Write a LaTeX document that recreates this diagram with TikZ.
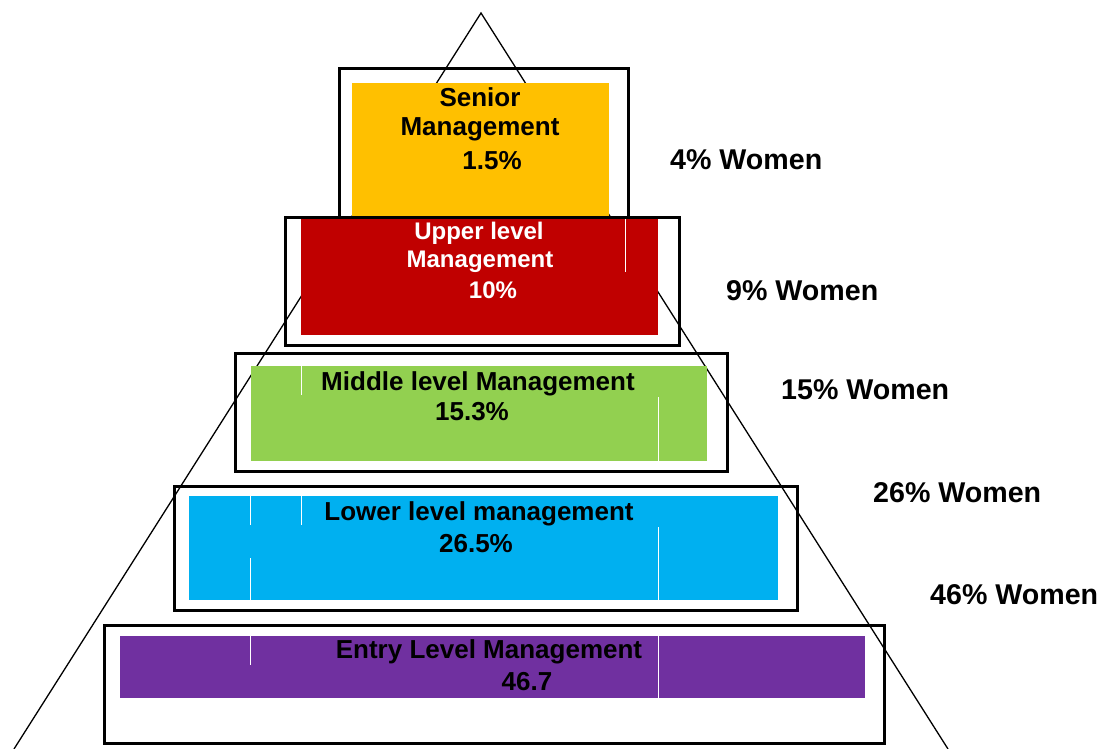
\documentclass[tikz,border=0pt]{standalone}
\usepackage{fontspec}
\setmainfont{Liberation Sans}
\definecolor{seniorcolor}{RGB}{255,192,0}
\definecolor{uppercolor}{RGB}{192,0,0}
\definecolor{middlecolor}{RGB}{146,208,80}
\definecolor{lowercolor}{RGB}{0,176,240}
\definecolor{entrycolor}{RGB}{112,48,160}

\begin{document}
\begin{tikzpicture}[x=1pt, y=-1pt,
    frame/.style={draw=black, line width=3pt},
    gridline/.style={draw=white, line width=1pt},
    lbl/.style={anchor=base, inner sep=0pt, font=\bfseries\fontsize{26}{30}\selectfont},
    share/.style={anchor=base west, inner sep=0pt, font=\bfseries\fontsize{28.6}{32}\selectfont}]

    \useasboundingbox (0,0) rectangle (1106,749);

    % pyramid outline
    \draw[line width=1.3pt] (14,749) -- (481,13) -- (948,749);

    % coloured levels
    \fill[seniorcolor] (352,83) rectangle (609,217);
    \fill[uppercolor] (301,219) rectangle (658,335);
    \fill[middlecolor] (251,366) rectangle (707,461);
    \fill[lowercolor] (189,496) rectangle (778,600);
    \fill[entrycolor] (120,636) rectangle (865,698);

    % table grid remains
    \draw[gridline] (625,219) -- (625,272);
    \draw[gridline] (301,366) -- (301,395);
    \draw[gridline] (658,397) -- (658,461);
    \draw[gridline] (250,496) -- (250,525);
    \draw[gridline] (250,558) -- (250,600);
    \draw[gridline] (301,496) -- (301,525);
    \draw[gridline] (658,527) -- (658,600);
    \draw[gridline] (250,636) -- (250,665);
    \draw[gridline] (658,636) -- (658,698);

    % frames
    \draw[frame] (339,69) rectangle (628,217);
    \draw[frame] (285,217) rectangle (679,345);
    \draw[frame] (235,353) rectangle (727,471);
    \draw[frame] (174,486) rectangle (797,610);
    \draw[frame] (104,625) rectangle (884,743);

    \node[lbl] (senior1) at (480,107) {Senior};
    \node[lbl] (senior2) at (480,136) {Management};
    \node[lbl] (seniorval) at (492,170) {1.5\%};

    \node[lbl, text=white, font=\bfseries\fontsize{24}{28}\selectfont] (upper1) at (479,239) {Upper level};
    \node[lbl, text=white, font=\bfseries\fontsize{24}{28}\selectfont] (upper2) at (480,267) {Management};
    \node[lbl, text=white, font=\bfseries\fontsize{24}{28}\selectfont] (upperval) at (493,298) {10\%};

    \node[lbl] (middle1) at (478,390) {Middle level Management};
    \node[lbl] (middleval) at (472,420) {15.3\%};

    \node[lbl] (lower1) at (479,520) {Lower level management};
    \node[lbl] (lowerval) at (476,552) {26.5\%};

    \node[lbl] (entry1) at (489,658) {Entry Level Management};
    \node[lbl] (entryval) at (527,690) {46.7};

    % share of women
    \node[share] (seniorwomen) at (670,169) {4\% Women};
    \node[share] (upperwomen) at (726,300) {9\% Women};
    \node[share] (middlewomen) at (781,399) {15\% Women};
    \node[share] (lowerwomen) at (873,502) {26\% Women};
    \node[share] (entrywomen) at (930,604) {46\% Women};

\end{tikzpicture}
\end{document}
